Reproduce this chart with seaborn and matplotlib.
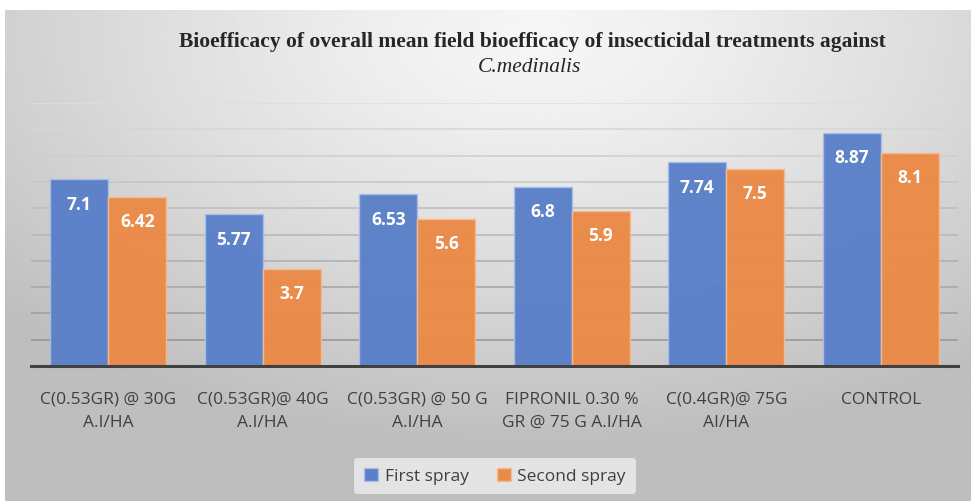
import numpy as np
import pandas as pd
import seaborn as sns
import matplotlib.pyplot as plt
from matplotlib.patches import Patch

# Data
treatments = ['C(0.53GR) @ 30G\nA.I/HA', 'C(0.53GR)@ 40G\nA.I/HA', 'C(0.53GR) @ 50 G\nA.I/HA',
              'FIPRONIL 0.30 %\nGR @ 75 G A.I/HA', 'C(0.4GR)@ 75G\nAI/HA', 'CONTROL']
first_spray = [7.1, 5.77, 6.53, 6.8, 7.74, 8.87]
second_spray = [6.42, 3.7, 5.6, 5.9, 7.5, 8.1]
series = ['First spray', 'Second spray']
colors = ['#5A80C9', '#EB8A47']

df = pd.DataFrame({
    'treatment': treatments * 2,
    'value': first_spray + second_spray,
    'spray': [series[0]] * len(treatments) + [series[1]] * len(treatments),
})

sns.set_style('white')
plt.rcParams['font.family'] = ['Open Sans', 'DejaVu Sans']

fig = plt.figure(figsize=(9.71, 5.02), dpi=100)

# grey gradient background of the chart box
bg = fig.add_axes([5 / 971, 0, 966 / 971, 491 / 502])
yy, xx = np.mgrid[0:1:200j, 0:1:400j]
dist = np.sqrt(((xx - 0.55) * 1.0) ** 2 + ((yy - 0.05) * 0.9) ** 2)
shade = 0.965 - 0.22 * np.clip(dist / 0.75, 0, 1) ** 1.3
bg.imshow(shade, cmap='gray', vmin=0, vmax=1, aspect='auto', extent=[0, 1, 1, 0])
bg.axis('off')

ax = fig.add_axes([31 / 971, 1 - 367 / 502, 927 / 971, 263 / 502])
ax.patch.set_alpha(0)

sns.barplot(data=df, x='treatment', y='value', hue='spray', palette=colors,
            width=0.75, gap=0, alpha=0.97, saturation=1, linewidth=0, ax=ax, legend=False)
for c, col in zip(ax.containers, ['#A8BEE6', '#F4BC94']):
    for p in c:
        p.set_edgecolor(col)
        p.set_linewidth(1)
    ax.bar_label(c, fmt='%g', padding=-24, color='white', fontsize=12.5, fontweight='bold')

ax.set_ylim(0, 10)
ax.set_yticks(np.arange(0, 11, 1))
ax.yaxis.grid(True)
ax.set_axisbelow(True)
glines = ax.yaxis.get_gridlines()
for i, g in enumerate(glines):
    shade_g = 0.55 + 0.32 * i / 10
    g.set_color(str(shade_g))
    g.set_linewidth(1.1)
ax.set_yticklabels([])
ax.tick_params(axis='y', length=0)
ax.tick_params(axis='x', length=0, pad=18, labelsize=12.5, labelcolor='#404040')
ax.set_xlabel('')
ax.set_ylabel('')
ax.set_xlim(-0.5, len(treatments) - 0.5)
for s in ['top', 'right', 'left']:
    ax.spines[s].set_visible(False)
ax.spines['bottom'].set_color('#404040')
ax.spines['bottom'].set_linewidth(2.2)
for lab in ax.get_xticklabels():
    lab.set_multialignment('center')
    lab.set_linespacing(1.55)

fig.text(0.548, 1 - 42 / 502, 'Bioefficacy of overall mean field bioefficacy of insecticidal treatments against',
         ha='center', va='center', fontsize=15.5, fontweight='bold', family='Liberation Serif', color='#262626')
fig.text(0.545, 1 - 68 / 502, 'C.medinalis', ha='center', va='center', fontsize=15.5, style='italic',
         family='Liberation Serif', color='#262626')

handles = [Patch(facecolor=colors[0], edgecolor='#A8BEE6'), Patch(facecolor=colors[1], edgecolor='#F4BC94')]
leg = fig.legend(handles, series, loc='center', bbox_to_anchor=(495 / 971, 1 - 477 / 502), ncol=2,
                 frameon=True, fontsize=12.5, handlelength=0.8, handleheight=0.8, handletextpad=0.4,
                 columnspacing=1.6, borderpad=0.55)
leg.get_frame().set_facecolor('#E4E4E4')
leg.get_frame().set_edgecolor('none')
leg.get_frame().set_alpha(1)
for t in leg.get_texts():
    t.set_color('#404040')

fig.savefig('out.png', dpi=100)
